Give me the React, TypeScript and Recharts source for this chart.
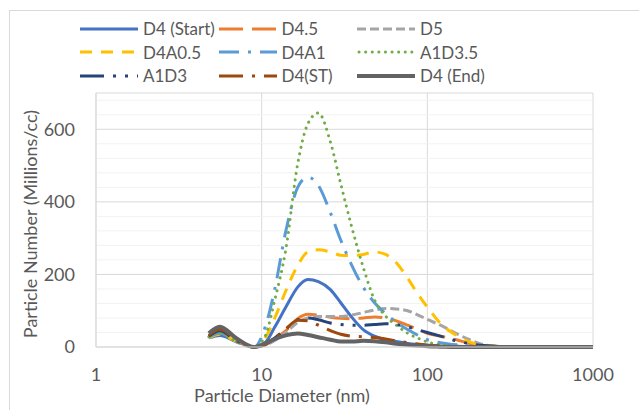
import React from 'react';
import { LineChart, Line, XAxis, YAxis, CartesianGrid, ReferenceLine, Legend } from 'recharts';

// Particle diameters (nm)
const diameters = [4.8, 5.6, 7, 9, 10.5, 12, 14, 16.5, 19, 22, 26, 30, 35, 41, 48, 56, 65, 76, 88, 100, 120, 150, 180, 220, 300, 500, 1000];

// Particle number (Millions/cc)
const d4Start = [25, 32, 15, 0, 12, 55, 110, 165, 186, 180, 158, 122, 82, 48, 30, 20, 15, 10, 7, 5, 3, 2, 1, 0, 0, 0, 0];
const d45 = [30, 42, 18, 0, 8, 22, 45, 78, 90, 88, 82, 79, 78, 80, 83, 80, 72, 60, 48, 38, 30, 20, 10, 3, 1, 0, 0];
const d5 = [30, 40, 15, 0, 5, 18, 40, 68, 80, 84, 84, 84, 88, 95, 102, 106, 105, 100, 88, 76, 60, 37, 20, 6, 1, 0, 0];
const d4a05 = [25, 35, 15, 0, 25, 80, 155, 225, 262, 268, 262, 253, 252, 255, 262, 255, 232, 190, 145, 110, 65, 32, 14, 4, 1, 0, 0];
const d4a1 = [28, 38, 15, 0, 55, 160, 320, 440, 468, 445, 370, 295, 225, 165, 122, 92, 68, 48, 32, 20, 12, 6, 3, 1, 0, 0, 0];
const a1d35 = [28, 38, 15, 0, 30, 130, 270, 505, 615, 645, 565, 450, 330, 220, 130, 85, 60, 38, 24, 14, 6, 2, 1, 0, 0, 0, 0];
const a1d3 = [30, 45, 18, 0, 8, 25, 50, 75, 80, 75, 66, 62, 60, 60, 62, 64, 62, 56, 47, 40, 30, 17, 9, 4, 1, 0, 0];
const d4st = [32, 48, 20, 0, 6, 25, 50, 74, 72, 60, 45, 35, 30, 28, 26, 22, 17, 12, 8, 5, 3, 1, 0, 0, 0, 0, 0];
const d4End = [38, 56, 25, 0, 10, 22, 32, 37, 33, 27, 20, 15, 15, 17, 16, 13, 9, 6, 4, 2, 1, 0, 0, 0, 0, 0, 0];

const seriesNames = ['D4 (Start)', 'D4.5', 'D5', 'D4A0.5', 'D4A1', 'A1D3.5', 'A1D3', 'D4(ST)', 'D4 (End)'];
const seriesValues = [d4Start, d45, d5, d4a05, d4a1, a1d35, a1d3, d4st, d4End];

const xTicks = [1, 10, 100, 1000];
const yTicks = [0, 200, 400, 600];
const yMinorTicks = [40, 80, 120, 160, 240, 280, 320, 360, 440, 480, 520, 560, 640, 680];

const xTitle = 'Particle Diameter (nm)';
const yTitle = 'Particle Number (Millions/cc)';

const seriesStyles = [
  { color: '#4472C4', dash: undefined, width: 3, cap: 'butt' },
  { color: '#ED7D31', dash: '24 9', width: 3, cap: 'butt' },
  { color: '#A5A5A5', dash: '9 4', width: 3, cap: 'butt' },
  { color: '#FFC000', dash: '12 9', width: 3, cap: 'butt' },
  { color: '#5B9BD5', dash: '20 9 3 9', width: 3, cap: 'butt' },
  { color: '#70AD47', dash: '0.1 6.5', width: 3, cap: 'round' },
  { color: '#264478', dash: '24 9 3 9 3 9', width: 3, cap: 'butt' },
  { color: '#9E480E', dash: '24 9 3 9', width: 3, cap: 'butt' },
  { color: '#636363', dash: undefined, width: 4, cap: 'butt' },
];

const data = diameters.map((d, i) => {
  const row: Record<string, number> = { d };
  seriesValues.forEach((vals, k) => {
    row['s' + k] = vals[i];
  });
  return row;
});

const FONT = 'Lato, "Open Sans", sans-serif';
const TEXT = '#595959';

const renderLegend = () => (
  <div
    style={{
      display: 'grid',
      gridTemplateColumns: '138.5px 138.5px 138.5px',
      fontFamily: FONT,
      fontSize: 17,
      color: TEXT,
      lineHeight: '23.5px',
    }}
  >
    {seriesNames.map((n, k) => {
      const s = seriesStyles[k];
      return (
        <div key={n} style={{ display: 'flex', alignItems: 'center', whiteSpace: 'nowrap' }}>
          <svg width={58} height={8} style={{ marginRight: 5, display: 'block' }}>
            <line
              x1={s.cap === 'round' ? 2 : 0}
              y1={4}
              x2={58}
              y2={4}
              stroke={s.color}
              strokeWidth={s.width}
              strokeDasharray={s.dash}
              strokeLinecap={s.cap as any}
            />
          </svg>
          <span>{n}</span>
        </div>
      );
    })}
  </div>
);

export default function App() {
  return (
    <div style={{ position: 'absolute', left: 0, top: 0, width: 639, height: 410, overflow: 'hidden', background: '#fff' }}>
      <div style={{ position: 'absolute', left: 9, top: 10, width: 700, height: 500, border: '1px solid #D9D9D9', boxSizing: 'border-box' }} />
      <LineChart width={639} height={410} data={data} margin={{ top: 93, right: 46, bottom: 0, left: 36 }}>
        {yMinorTicks.map((v) => (
          <ReferenceLine key={v} y={v} stroke="#F2F2F2" strokeWidth={1} ifOverflow="hidden" />
        ))}
        <CartesianGrid stroke="#D9D9D9" strokeWidth={1} />
        <XAxis
          dataKey="d"
          type="number"
          scale="log"
          domain={[1, 1000]}
          ticks={xTicks}
          allowDataOverflow
          height={63}
          tickLine={false}
          tickSize={0}
          tickMargin={21}
          axisLine={{ stroke: '#D9D9D9', strokeWidth: 1 }}
          tick={{ fill: TEXT, fontSize: 18, fontFamily: FONT }}
          label={{
            content: (p: any) => {
              const vb = p.viewBox;
              return (
                <text x={vb.x + 186} y={vb.y + 55} textAnchor="middle" fill={TEXT} fontSize={18} fontFamily={FONT}>
                  {xTitle}
                </text>
              );
            },
          }}
        />
        <YAxis
          type="number"
          domain={[0, 700]}
          ticks={yTicks}
          width={60}
          tickLine={false}
          tickSize={0}
          tickMargin={21}
          axisLine={{ stroke: '#D9D9D9', strokeWidth: 1 }}
          tick={{ fill: TEXT, fontSize: 18, fontFamily: FONT }}
          label={{
            content: (p: any) => {
              const vb = p.viewBox;
              const cx = vb.x - 6;
              const cy = vb.y + vb.height / 2 + 4;
              return (
                <text
                  x={cx}
                  y={cy}
                  transform={`rotate(-90 ${cx} ${cy})`}
                  textAnchor="middle"
                  dominantBaseline="central"
                  fill={TEXT}
                  fontSize={18}
                  fontFamily={FONT}
                >
                  {yTitle}
                </text>
              );
            },
          }}
        />
        <Legend
          layout="horizontal"
          verticalAlign="middle"
          align="center"
          content={renderLegend}
          wrapperStyle={{ top: 17, left: 80, width: 420, height: 72 }}
        />
        {seriesNames.map((n, k) => {
          const s = seriesStyles[k];
          return (
            <Line
              key={n}
              name={n}
              dataKey={'s' + k}
              type="monotone"
              stroke={s.color}
              strokeWidth={s.width}
              strokeDasharray={s.dash}
              strokeLinecap={s.cap as any}
              dot={false}
              activeDot={false}
              isAnimationActive={false}
            />
          );
        })}
      </LineChart>
    </div>
  );
}
